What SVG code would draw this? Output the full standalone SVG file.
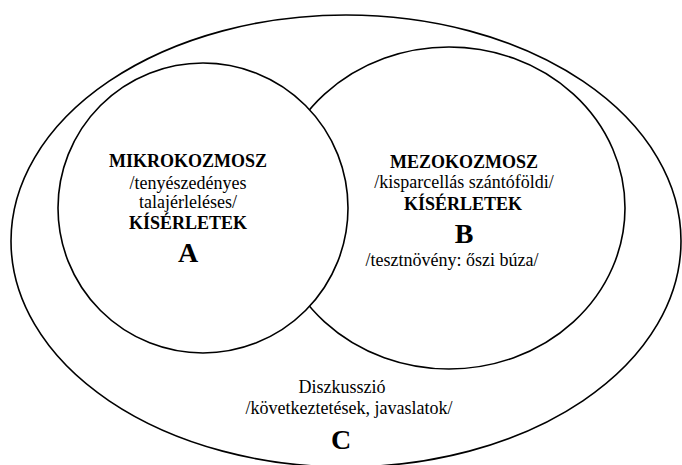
<svg xmlns="http://www.w3.org/2000/svg" width="682" height="465" viewBox="0 0 682 465">
<style>
.shape{fill:#ffffff;stroke:#000000;stroke-width:1.6}
text{font-family:"Liberation Serif","Times New Roman",serif;fill:#000000;text-anchor:middle}
.b{font-weight:bold;font-size:18px}
.r{font-size:18px}
.big{font-weight:bold;font-size:28px}
</style>
<rect x="0" y="0" width="682" height="465" fill="#ffffff"/>
<g id="node-C">
<ellipse class="shape" cx="346" cy="241" rx="335" ry="226"/>
<text class="r" x="342" y="393">Diszkusszió</text>
<text class="r" x="349" y="414">/következtetések, javaslatok/</text>
<text class="big" x="341" y="449">C</text>
</g>
<g id="node-B">
<ellipse class="shape" cx="449" cy="208" rx="176" ry="161"/>
<text class="b" x="464" y="168">MEZOKOZMOSZ</text>
<text class="r" x="464" y="188">/kisparcellás szántóföldi/</text>
<text class="b" x="463" y="210">KÍSÉRLETEK</text>
<text class="big" x="464" y="243">B</text>
<text class="r" x="452" y="266">/tesztnövény: őszi búza/</text>
</g>
<g id="node-A">
<circle class="shape" cx="203" cy="208" r="145"/>
<text class="b" x="188" y="167">MIKROKOZMOSZ</text>
<text class="r" x="188" y="189">/tenyészedényes</text>
<text class="r" x="188" y="208">talajérleléses/</text>
<text class="b" x="188" y="229">KÍSÉRLETEK</text>
<text class="big" x="188" y="262">A</text>
</g>
<g id="connectors"/>
</svg>
